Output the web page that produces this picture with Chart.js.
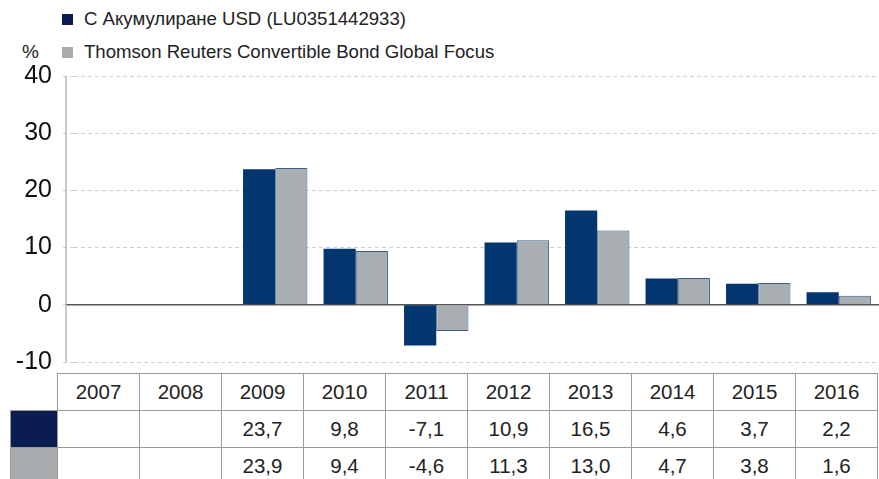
<!DOCTYPE html>
<html>
<head>
<meta charset="utf-8">
<script src="https://cdn.jsdelivr.net/npm/chart.js@4"></script>
<style>
  body { margin: 0; background: #fff; font-family: "Liberation Sans", Arial, sans-serif; color: #222; }
  #wrap { position: relative; width: 879px; height: 479px; overflow: hidden; }
  #chartBox { position: absolute; left: 0; top: 0; }
  .leg { position: absolute; left: 62px; font-size: 18.6px; line-height: 20px; white-space: nowrap; }
  .leg span { display: inline-block; width: 11px; height: 11px; margin-right: 11px; vertical-align: 0px; }
  #unit { position: absolute; left: 22px; top: 42px; font-size: 19px; line-height: 20px; }
  #tbl { position: absolute; left: 10px; top: 373px; border-collapse: collapse; font-size: 20.5px; z-index: 2; }
  #tbl td { border: 1px solid #9a9a9a; height: 36px; padding: 0; text-align: center; width: 81px; }
  #tbl td.key { width: 46px; }
  #tbl td.blank { border: none; }
</style>
</head>
<body>
<div id="wrap">
  <div class="leg" style="top:9px"><span style="background:#0b1c50"></span>С Акумулиране USD (LU0351442933)</div>
  <div class="leg" style="top:42px"><span style="background:#a7abae"></span>Thomson Reuters Convertible Bond Global Focus</div>
  <div id="unit">%</div>
  <div id="chartBox"><canvas id="chart" width="879" height="372"></canvas></div>
  <table id="tbl"></table>
</div>
<script>
const years = ["2007", "2008", "2009", "2010", "2011", "2012", "2013", "2014", "2015", "2016"];
const fundValues = [null, null, 23.7, 9.8, -7.1, 10.9, 16.5, 4.6, 3.7, 2.2];
const indexValues = [null, null, 23.9, 9.4, -4.6, 11.3, 13.0, 4.7, 3.8, 1.6];
const seriesNames = ["С Акумулиране USD (LU0351442933)", "Thomson Reuters Convertible Bond Global Focus"];
const yMin = -10;
const yMax = 40;
const yStep = 10;

const axisLines = {
  id: "axisLines",
  beforeDatasetsDraw(chart) {
    const ctx = chart.ctx;
    const y = chart.scales.y;
    const area = chart.chartArea;
    ctx.save();
    // zero line
    ctx.strokeStyle = "#555";
    ctx.lineWidth = 1.5;
    ctx.beginPath();
    ctx.moveTo(66, y.getPixelForValue(0));
    ctx.lineTo(area.right, y.getPixelForValue(0));
    ctx.stroke();
    // vertical axis
    ctx.strokeStyle = "#b8b8b8";
    ctx.beginPath();
    ctx.moveTo(66, y.getPixelForValue(yMax));
    ctx.lineTo(66, y.getPixelForValue(yMin));
    ctx.stroke();
    ctx.restore();
  }
};

new Chart(document.getElementById("chart"), {
  type: "bar",
  data: {
    labels: years,
    datasets: [
      {
        label: seriesNames[0],
        data: fundValues,
        backgroundColor: "#03356f",
        borderColor: "#03356f",
        borderWidth: 0,
      },
      {
        label: seriesNames[1],
        data: indexValues,
        backgroundColor: "#a9aeb2",
        borderColor: "#3b5d8a",
        borderWidth: 1,
      },
    ],
  },
  options: {
    responsive: false,
    animation: false,
    layout: { padding: { top: 76, bottom: 10, left: 0, right: 0 } },
    plugins: { legend: { display: false }, tooltip: { enabled: false } },
    datasets: { bar: { categoryPercentage: 0.8, barPercentage: 1 } },
    scales: {
      x: {
        display: false,
        offset: true,
      },
      y: {
        min: yMin,
        max: yMax,
        afterFit: (scale) => {
          scale.width = 74;
          scale.paddingTop = 0;
          scale.paddingBottom = 0;
        },
        ticks: {
          stepSize: yStep,
          padding: 11,
          color: "#111",
          font: { family: "Liberation Sans, Arial", size: 25 },
        },
        grid: {
          color: "#cfcfcf",
          lineWidth: 1,
          tickLength: 11,
          tickColor: "#cfcfcf",
          tickBorderDash: [4, 3],
        },
        border: { display: false, dash: [4, 3] },
      },
    },
  },
  plugins: [axisLines],
});

// data table under the chart
const fmt = (v) => (v === null ? "" : v.toFixed(1).replace(".", ","));
const tbl = document.getElementById("tbl");
let html = '<tr><td class="key blank"></td>' + years.map((y) => "<td>" + y + "</td>").join("") + "</tr>";
html += '<tr><td class="key" style="background:#0b1c50"></td>' + fundValues.map((v) => "<td>" + fmt(v) + "</td>").join("") + "</tr>";
html += '<tr><td class="key" style="background:#a7abae"></td>' + indexValues.map((v) => "<td>" + fmt(v) + "</td>").join("") + "</tr>";
tbl.innerHTML = html;
</script>
</body>
</html>
